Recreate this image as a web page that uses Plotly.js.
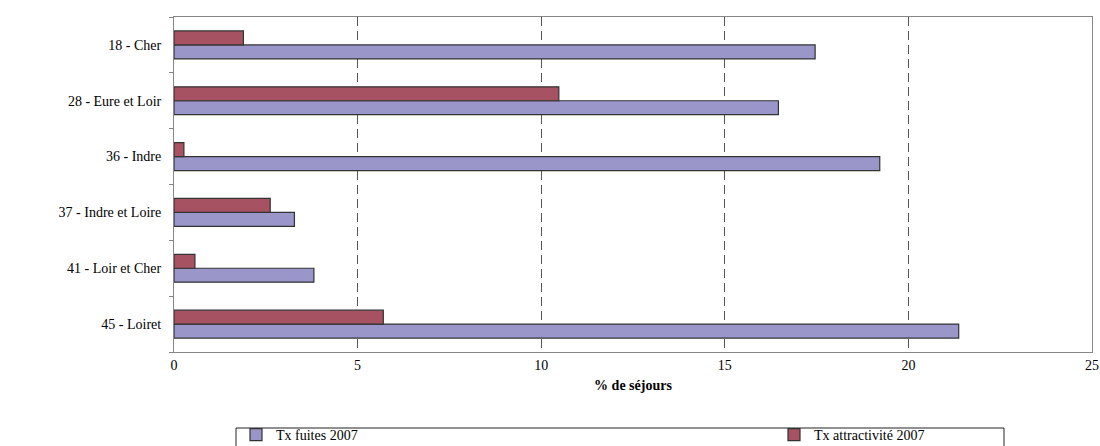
<!DOCTYPE html>
<html>
<head>
<meta charset="utf-8">
<script src="https://cdn.plot.ly/plotly-3.0.1.min.js"></script>
<style>html,body{margin:0;padding:0;background:#fff;}#chart{width:1100px;height:446px;}</style>
</head>
<body>
<div id="chart"></div>
<script>
const categories = ["18 - Cher", "28 - Eure et Loir", "36 - Indre", "37 - Indre et Loire", "41 - Loir et Cher", "45 - Loiret"];
const txFuites2007 = [17.46, 16.46, 19.22, 3.28, 3.81, 21.37];
const txAttractivite2007 = [1.89, 10.48, 0.27, 2.62, 0.57, 5.70];
const seriesNames = ["Tx fuites 2007", "Tx attractivité 2007"];
const xTicks = [0, 5, 10, 15, 20, 25];

const W = 1100, H = 446;
const L = 174, R = 8, T = 17, B = 94;
const pw = W - L - R, ph = H - T - B;
const px = v => (v - L) / pw;
const py = v => (H - B - v) / ph;

const font = {family: "Liberation Serif, Times New Roman, serif", size: 14, color: "#000"};

const traces = [
  {type: "bar", orientation: "h", name: seriesNames[0], y: categories, x: txFuites2007, legend: "legend",
   marker: {color: "#9b96c9", line: {color: "#333333", width: 1.2}}},
  {type: "bar", orientation: "h", name: seriesNames[1], y: categories, x: txAttractivite2007, legend: "legend2",
   marker: {color: "#a65262", line: {color: "#333333", width: 1.2}}}
];

const legendBase = {orientation: "h", yanchor: "top", font: font, bgcolor: "rgba(0,0,0,0)",
                    borderwidth: 0, itemclick: false, itemdoubleclick: false};

const layout = {
  width: W, height: H,
  margin: {l: L, r: R, t: T, b: B, pad: 0, autoexpand: false},
  paper_bgcolor: "#fff", plot_bgcolor: "#fff",
  font: font,
  barmode: "group", bargap: 0.5, bargroupgap: 0,
  showlegend: true,
  legend: Object.assign({}, legendBase, {x: px(236), y: py(419), xanchor: "left"}),
  legend2: Object.assign({}, legendBase, {x: px(774), y: py(419), xanchor: "left"}),
  xaxis: {range: [0, 25], tickvals: xTicks, ticktext: xTicks.map(String),
          showgrid: true, gridcolor: "#555", griddash: "9px,5px", gridwidth: 1,
          zeroline: false, showline: true, linecolor: "#868686", linewidth: 1, mirror: true,
          ticks: "", tickfont: font, automargin: false,
          title: {text: "<b>% de séjours</b>", font: font, standoff: 8}},
  yaxis: {type: "category", categoryorder: "array", categoryarray: categories.slice().reverse(),
          showgrid: false, zeroline: false, showline: true, linecolor: "#868686", linewidth: 1, mirror: true,
          ticks: "outside", tickson: "boundaries", ticklen: 4, tickcolor: "#868686",
          tickfont: font, ticklabelstandoff: 9, automargin: false},
  shapes: [
    {type: "rect", xref: "paper", yref: "paper", x0: px(236), x1: px(1004), y0: py(428), y1: py(470),
     line: {color: "#222", width: 1}, fillcolor: "rgba(0,0,0,0)"}
  ]
};

Plotly.newPlot("chart", traces, layout, {displayModeBar: false, staticPlot: true});
</script>
</body>
</html>
